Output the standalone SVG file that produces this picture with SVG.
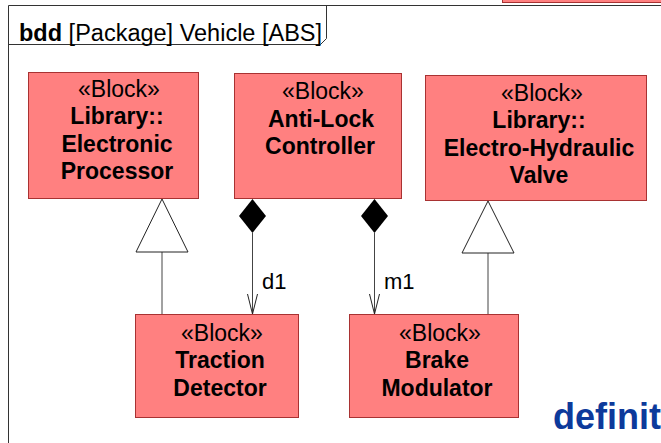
<svg xmlns="http://www.w3.org/2000/svg" width="661" height="443" viewBox="0 0 661 443">
<style>
  .blk { fill: #ff8080; stroke: #a83232; stroke-width: 1; }
  .st { font-family: "Liberation Sans", Arial, sans-serif; font-size: 23px; fill: #000; text-anchor: middle; }
  .nm { font-family: "Liberation Sans", Arial, sans-serif; font-size: 23px; font-weight: bold; fill: #000; text-anchor: middle; }
  .frame { fill: none; stroke: #333; stroke-width: 1; }
  .ln { fill: none; stroke: #444; stroke-width: 1; }
  .lbl { font-family: "Liberation Sans", Arial, sans-serif; font-size: 22px; fill: #000; }
</style>
<rect x="0" y="0" width="661" height="443" fill="#fff"/>
<g id="topbox">
  <rect x="502.5" y="-10" width="170" height="12.5" class="blk"/>
</g>
<g id="frame">
  <path class="frame" d="M8.5,443 V5.5 H661"/>
  <path class="frame" d="M8.5,44.5 H320.5 L326.5,38.5 V5.5"/>
  <text x="19" y="41" font-family="Liberation Sans, Arial, sans-serif" font-size="23.5px" fill="#000"><tspan font-weight="bold">bdd</tspan> [Package] Vehicle [ABS]</text>
</g>
<g id="connectors">
  <g id="gen1">
    <line class="ln" x1="162" y1="252" x2="162" y2="314"/>
    <polygon points="162,199 188,252 136,252" fill="#fff" stroke="#222" stroke-width="1"/>
  </g>
  <g id="gen2">
    <line class="ln" x1="488" y1="253" x2="488" y2="314"/>
    <polygon points="488,201 514,253 462,253" fill="#fff" stroke="#222" stroke-width="1"/>
  </g>
  <g id="d1">
    <polygon points="252.5,199 266,216 252.5,233 239,216" fill="#000"/>
    <line class="ln" x1="252.5" y1="233" x2="252.5" y2="314"/>
    <path d="M247.5,294 L252.5,314 L257.5,294" fill="none" stroke="#222" stroke-width="1"/>
    <text class="lbl" x="262" y="289">d1</text>
  </g>
  <g id="m1">
    <polygon points="374.5,199 388,216 374.5,233 361,216" fill="#000"/>
    <line class="ln" x1="374.5" y1="233" x2="374.5" y2="314"/>
    <path d="M369.5,294 L374.5,314 L379.5,294" fill="none" stroke="#222" stroke-width="1"/>
    <text class="lbl" x="384" y="289">m1</text>
  </g>
</g>
<g id="electronic-processor">
  <rect class="blk" x="28.5" y="72.5" width="170" height="126"/>
  <text class="st" x="119" y="97">«Block»</text>
  <text class="nm" x="117" y="124">Library::</text>
  <text class="nm" x="117" y="152">Electronic</text>
  <text class="nm" x="117" y="179">Processor</text>
</g>
<g id="anti-lock-controller">
  <rect class="blk" x="234.5" y="73.5" width="167" height="125"/>
  <text class="st" x="323" y="99">«Block»</text>
  <text class="nm" x="321" y="127">Anti-Lock</text>
  <text class="nm" x="320" y="154">Controller</text>
</g>
<g id="electro-hydraulic-valve">
  <rect class="blk" x="425.5" y="75.5" width="221" height="125"/>
  <text class="st" x="542" y="101">«Block»</text>
  <text class="nm" x="539" y="128">Library::</text>
  <text class="nm" x="539" y="156">Electro-Hydraulic</text>
  <text class="nm" x="539" y="183">Valve</text>
</g>
<g id="traction-detector">
  <rect class="blk" x="135.5" y="314.5" width="163" height="103"/>
  <text class="st" x="222" y="341">«Block»</text>
  <text class="nm" x="220" y="368">Traction</text>
  <text class="nm" x="220" y="396">Detector</text>
</g>
<g id="brake-modulator">
  <rect class="blk" x="349.5" y="314.5" width="169" height="103"/>
  <text class="st" x="440" y="341">«Block»</text>
  <text class="nm" x="437" y="368">Brake</text>
  <text class="nm" x="437" y="396">Modulator</text>
</g>
<text x="553" y="429" font-family="Liberation Sans, Arial, sans-serif" font-size="36px" font-weight="bold" fill="#0d3a9b">definit</text>
</svg>
